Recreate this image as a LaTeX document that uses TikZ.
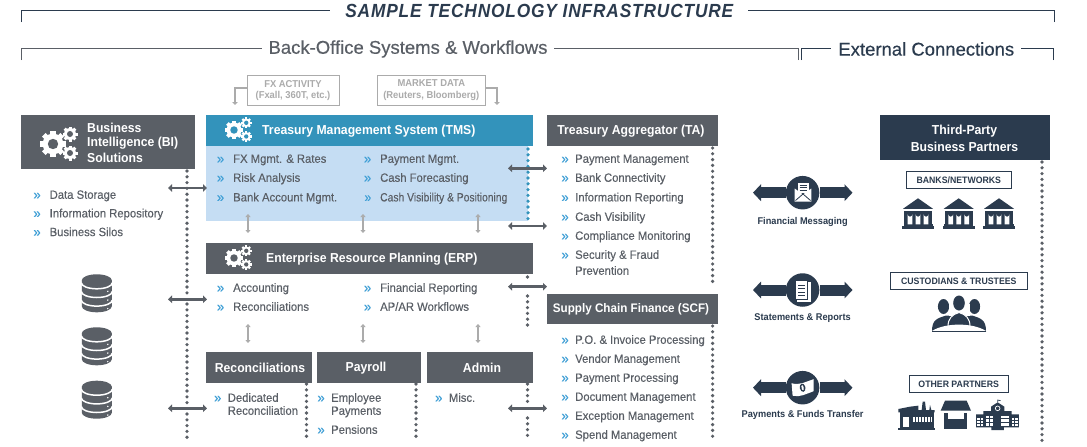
\documentclass[tikz,border=0pt]{standalone}
\usepackage{fontspec}
\setmainfont{Liberation Sans}
\newfontfamily\medfont[FakeStretch=0.94]{Liberation Sans}
\newfontfamily\sectfont[FakeBold=0.4]{Liberation Sans}
\newfontfamily\itemfont[FakeStretch=0.94,FakeBold=0.2]{Liberation Sans}
\newfontfamily\tightfont[FakeStretch=0.86,FakeBold=0.2]{Liberation Sans}
\newfontfamily\titlefont[LetterSpace=4.5,FakeStretch=0.91]{Liberation Sans}
\usetikzlibrary{arrows.meta}
\definecolor{slate}{HTML}{5A5F66}
\definecolor{tmsblue}{HTML}{3393BB}
\definecolor{paleblue}{HTML}{C5DDF3}
\definecolor{navy}{HTML}{2B3B4E}
\definecolor{softgray}{HTML}{ABABAB}
\definecolor{bulletblue}{HTML}{3F9FD6}
\newcommand{\rb}[1][9pt]{\llap{\raisebox{-0.5pt}{\textcolor{bulletblue}{\fontsize{14}{14}\selectfont »}}\hspace{#1}}}
\newcommand{\gearwheel}[4]{%
  \foreach \a in {0,45,...,315}
    \fill[white,rotate around={\a:(#1,#2)}] ({#1-0.2*#3},#2) rectangle ({#1+0.2*#3},{#2-#3});
  \fill[white] (#1,#2) circle[radius=0.8*#3];
  \fill[#4] (#1,#2) circle[radius=0.4*#3];
}
\tikzset{
  headbox/.style={inner sep=0pt,anchor=north west,text=white},
  headtext/.style={inner sep=0pt,text=white,font=\medfont\bfseries\fontsize{13}{15}\selectfont},
  item/.style={inner sep=0pt,anchor=west,text=slate,text height=10.2pt,text depth=2pt,
    font=\itemfont\fontsize{12}{14}\selectfont},
  partner/.style={draw=navy,line width=0.9pt,inner sep=0pt,text=navy,minimum height=17.4pt,
    font=\medfont\bfseries\fontsize{9.3}{11}\selectfont},
  feedbox/.style={draw=softgray,line width=1pt,inner sep=0pt,text=softgray,align=center,
    font=\medfont\bfseries\fontsize{10}{11.5}\selectfont},
  flowlabel/.style={inner sep=0pt,text=navy,font=\medfont\bfseries\fontsize{9.8}{11}\selectfont},
  flowdisc/.style={circle,fill=navy,minimum size=33.5pt,inner sep=0pt},
  flowarrow/.style={line width=11pt,navy,-{Triangle[length=8pt,width=16.5pt]}},
  linkarrow/.style={line width=2.8pt,slate,{Triangle[length=4pt,width=7.5pt]}-{Triangle[length=4pt,width=7.5pt]}},
  softarrow/.style={line width=1.6pt,softgray,{Triangle[length=3pt,width=5pt]}-{Triangle[length=3pt,width=5pt]}},
  feedarrow/.style={line width=2pt,softgray,-{Triangle[length=3pt,width=5.5pt]}},
  dotrule/.style={line width=3.6pt,line cap=round,dash pattern=on 0pt off 5.8pt,slate},
  framerule/.style={line width=1pt},
  pics/gearset/.style={code={
    \gearwheel{0}{0}{13}{#1}
    \gearwheel{17}{-10}{7.5}{#1}
    \gearwheel{17}{9}{7.5}{#1}
  }},
  pics/dbstack/.style={code={
    \fill[slate] (-15,6) -- (-15,32) arc[start angle=180,end angle=0,x radius=15,y radius=6] -- (15,6) -- cycle;
    \fill[slate] (0,6) ellipse[x radius=15,y radius=6];
    \foreach \d in {8.5,17.2,25.8}
      \draw[white,line width=1.5pt] (-15.5,\d) arc[start angle=180,end angle=0,x radius=15.5,y radius=6];
    \foreach \d in {18.5,27.2,35.8}
      \fill[white] (11,\d-1.5) circle[radius=0.8];
  }},
  pics/bankhouse/.style={code={
    \fill[navy] (-15,10.5) -- (0,0) -- (15,10.5) -- cycle;
    \fill[navy] (-14,12.5) rectangle (14,26);
    \fill[navy] (-14.5,26) rectangle (14.5,28);
    \fill[navy] (-16,28) rectangle (16,30.5);
    \foreach \c in {-8,0,8}
      \fill[white] (\c-2.4,26) -- (\c-2.4,16) arc[start angle=180,end angle=0,radius=2.4] -- (\c+2.4,26) -- cycle;
  }},
  pics/crowd/.style={code={
    \fill[navy] (-15.5,11) ellipse[x radius=5.6,y radius=7.5];
    \fill[navy] (15.5,11) ellipse[x radius=5.6,y radius=7.5];
    \fill[navy] (-27,36) .. controls (-27,24) and (-22,23) .. (-13,20) -- (13,20) .. controls (22,23) and (27,24) .. (27,36) -- cycle;
    \fill[white] (-10.5,8) rectangle (10.5,20);
    \fill[navy] (0,7.5) ellipse[x radius=5.8,y radius=7.5];
    \draw[white,line width=1pt,fill=navy] (-11,31) .. controls (-11,23) and (-7,19) .. (0,17) .. controls (7,19) and (11,23) .. (11,31) -- cycle;
    \fill[white] (-27,35.5) .. controls (-14,27) and (14,27) .. (27,35.5) -- cycle;
    \draw[navy,line width=0.8pt] (-27,36) -- (27,36);
  }},
  pics/mailicon/.style={code={
    \fill[white] (-5.5,-10) rectangle (5.5,0);
    \draw[navy,line width=0.8pt] (-3.5,-7.5) -- (3.5,-7.5) (-3.5,-5) -- (3.5,-5) (-3.5,-2.5) -- (3.5,-2.5);
    \fill[white] (-8.3,-4) -- (-8.3,9) -- (8.3,9) -- (8.3,-4) -- (0,2) -- cycle;
    \draw[navy,line width=0.8pt] (-7.5,8) -- (0,1.5) -- (7.5,8);
  }},
  pics/sheeticon/.style={code={
    \fill[white] (-5.5,-8.5) rectangle (8,11.5);
    \draw[navy,line width=0.5pt,fill=white] (-7.5,-9.5) rectangle (5,9.5);
    \foreach \d in {-5,-1.5,2,5.5}
      \draw[navy,line width=0.8pt] (-4.5,\d) -- (2.5,\d);
  }},
  pics/noteicon/.style={code={
    \fill[white] (-11,-4.5) .. controls (-3,-2) and (3,-6) .. (11,-8.5) -- (11,3.5) .. controls (4,6) and (-3,10) .. (-10,8) -- cycle;
    \fill[navy,rotate=12] (0,0) ellipse[x radius=2.8,y radius=4.2];
    \fill[white,rotate=12] (0,0) ellipse[x radius=1.1,y radius=2.6];
  }},
  pics/factoryicon/.style={code={
    \fill[navy] (30,52) rectangle (132,100);
    \fill[navy] (25,100) rectangle (134,105);
    \fill[navy] (25,52) -- (25,42) -- (60,35) -- (85,32) -- (85,45) -- (95,45) -- (98,20) -- (105,20) -- (108,45) -- (118,45) -- (120,30) -- (124,45) -- (134,45) -- (134,52) -- cycle;
    \fill[white] (40,67) rectangle (58,95);
    \fill[white] (68,67) rectangle (125,82);
    \foreach \q in {75,84,93,102,111,120}
      \draw[navy,line width=0.4pt] (\q,67) -- (\q,82);
  }},
  pics/shopicon/.style={code={
    \fill[navy] (165,17) -- (230,17) -- (243,47) -- (152,47) -- cycle;
    \fill[navy] (163,55) rectangle (232,103);
    \fill[white] (173,55) rectangle (222,72);
  }},
  pics/schoolicon/.style={code={
    \fill[navy] (258,58) -- (280,58) -- (280,48) -- (303,48) -- (303,35) -- (323,22) -- (343,35) -- (343,48) -- (365,48) -- (365,58) -- (387,58) -- (387,97) -- (342,97) -- (342,105) -- (304,105) -- (304,97) -- (258,97) -- cycle;
    \draw[navy,line width=0.7pt] (323,22) -- (323,15) -- (332,17);
    \draw[white,line width=0.7pt] (323,40) circle[radius=7];
    \foreach \wx in {288,300,334,346}
      \foreach \wy in {62,73,84}
        \fill[white] (\wx,\wy) rectangle ++(10,8);
    \foreach \wx in {262,272,366,376}
      \foreach \wy in {68,78,88}
        \fill[white] (\wx,\wy) rectangle ++(7,6);
  }}
}
\begin{document}
\begin{tikzpicture}[x=1pt,y=-1pt]
  \path[use as bounding box,fill=white] (0,0) rectangle (1087,447);

  \node[inner sep=0pt,minimum width=417.5pt,text=navy] (maintitle) at (539.3,10.8)
    {\titlefont\fontsize{19}{22}\selectfont\bfseries\itshape SAMPLE TECHNOLOGY INFRASTRUCTURE};
  \node[inner sep=0pt,minimum width=292pt,text=slate] (backtitle) at (408,49)
    {\sectfont\fontsize{18.5}{21}\selectfont Back-Office Systems \& Workflows};
  \node[inner sep=0pt,minimum width=189.4pt,text=navy] (exttitle) at (926.3,49)
    {\sectfont\fontsize{18.5}{21}\selectfont External Connections};
  \coordinate (maintl) at (21,22);
  \coordinate (maintr) at (1054.5,22);
  \coordinate (backl) at (21,60);
  \coordinate (backr) at (798,60);
  \coordinate (extl) at (801.6,60);
  \coordinate (extr) at (1053.5,60);
  \begin{scope}[framerule]
    \draw[navy] (maintl) |- ([yshift=0.5pt]maintitle.west);
    \draw[navy] (maintr) |- ([yshift=0.5pt]maintitle.east);
    \draw[slate] (backl) |- ([yshift=1pt]backtitle.west);
    \draw[slate] (backr) |- ([yshift=1pt]backtitle.east);
    \draw[navy] (extl) |- ([yshift=1pt]exttitle.west);
    \draw[navy] (extr) |- ([yshift=1pt]exttitle.east);
  \end{scope}

  \node[feedbox,minimum width=92pt,minimum height=30pt] (fxbox) at (293,90.3)
    {FX ACTIVITY\\(Fxall, 360T, etc.)};
  \node[feedbox,minimum width=108.5pt,minimum height=30pt] (mktbox) at (431.3,90.3)
    {MARKET DATA\\(Reuters, Bloomberg)};
  \coordinate (fxtip) at (235,105);
  \coordinate (mkttip) at (497,105);
  \draw[feedarrow] ([yshift=2.6pt]fxbox.west) -| (fxtip);
  \draw[feedarrow] ([yshift=2.6pt]mktbox.east) -| (mkttip);

  \node[headbox,fill=slate,minimum width=174pt,minimum height=53.7pt] (bihead) at (21,115) {};
  \node[headbox,fill=tmsblue,minimum width=327pt,minimum height=31pt] (tmshead) at (206,115) {};
  \node[headbox,fill=paleblue,minimum width=322pt,minimum height=75pt] (tmsbody) at (206,146) {};
  \node[headbox,fill=slate,minimum width=327pt,minimum height=31pt] (erphead) at (206,243) {};
  \node[headbox,fill=slate,minimum width=106pt,minimum height=31pt] (rechead) at (206,352) {};
  \node[headbox,fill=slate,minimum width=104pt,minimum height=31pt] (payhead) at (317,352) {};
  \node[headbox,fill=slate,minimum width=106pt,minimum height=31pt] (admhead) at (427,352) {};
  \node[headbox,fill=slate,minimum width=171pt,minimum height=31pt] (tahead) at (547,115) {};
  \node[headbox,fill=slate,minimum width=171pt,minimum height=30pt] (scfhead) at (547,294) {};
  \node[headbox,fill=navy,minimum width=170pt,minimum height=45pt] (tphead) at (880,115) {};

  \node[headtext,anchor=west] (bitext1) at (87,128) {Business};
  \node[headtext,anchor=west] (bitext2) at (87,143.2) {Intelligence (BI)};
  \node[headtext,anchor=west] (bitext3) at (87,158) {Solutions};
  \node[headtext,anchor=west] (tmstext) at (262,131) {Treasury Management System (TMS)};
  \node[headtext,anchor=west] (erptext) at (266,259) {Enterprise Resource Planning (ERP)};
  \node[headtext] (rectext) at (260,368) {Reconciliations};
  \node[headtext] (paytext) at (366,368) {Payroll};
  \node[headtext] (admtext) at (482,368) {Admin};
  \node[headtext] (tatext) at (631,131) {Treasury Aggregator (TA)};
  \node[headtext,font=\medfont\bfseries\fontsize{12.4}{15}\selectfont] (scftext) at (631,309.5) {Supply Chain Finance (SCF)};
  \node[headtext] (tptext1) at (964.5,131) {Third-Party};
  \node[headtext] (tptext2) at (964.5,147.2) {Business Partners};

  \pic at (53,144) {gearset=slate};
  \pic[scale=0.72] at (234,130) {gearset=tmsblue};
  \pic[scale=0.72] at (234,258) {gearset=slate};

  \foreach \name/\x/\from/\to in {
      bia/187/171/296, bib/187/304/404, bic/187/414/441,
      erpa/527.5/277/279, erpb/527.5/296/325,
      reca/306.5/384/441, paya/416/384/441,
      adma/527.5/384/403, admb/527.5/418/441,
      taa/712.6/148/283, scfa/712.6/326/441,
      tpa/1042/162/441} {
    \coordinate (\name top) at (\x,\from);
    \coordinate (\name end) at (\x,\to);
    \draw[dotrule] (\name top) -- (\name end);
  }
  \coordinate (tmsdottop) at (528,149);
  \coordinate (tmsdotend) at (528,221);
  \draw[dotrule,tmsblue] (tmsdottop) -- (tmsdotend);

  \foreach \name/\xa/\xb/\y in {
      bil/168/207/188, erpl/168/207/299.3, recl/168/207/408.3,
      tmsu/508/547/168.3, tmsv/508/547/226,
      erpr/508/547/286.7, admr/508/547/408.3} {
    \coordinate (\name a) at (\xa,\y);
    \coordinate (\name b) at (\xb,\y);
    \draw[linkarrow] (\name a) -- (\name b);
  }

  \foreach \name/\x/\ya/\yb in {
      upa/248/214/233, upb/363/214/233, upc/478/214/233,
      loa/248/324/343, lob/363/324/343, loc/478/324/343} {
    \coordinate (\name a) at (\x,\ya);
    \coordinate (\name b) at (\x,\yb);
    \draw[softarrow] (\name a) -- (\name b);
  }

  \node[item] (bia1) at (49.5,194.7) {\rb Data Storage};
  \node[item] (bia2) at (49.5,213.3) {\rb Information Repository};
  \node[item] (bia3) at (49.5,232) {\rb Business Silos};

  \node[item] (tms1) at (233,158.7) {\rb FX Mgmt. \& Rates};
  \node[item] (tms2) at (233,177.7) {\rb Risk Analysis};
  \node[item] (tms3) at (233,197.3) {\rb Bank Account Mgmt.};
  \node[item] (tms4) at (380,158.7) {\rb Payment Mgmt.};
  \node[item] (tms5) at (380,177.7) {\rb Cash Forecasting};
  \node[item,font=\tightfont\fontsize{12}{14}\selectfont] (tms6) at (380,197.3) {\rb Cash Visibility \& Positioning};

  \node[item] (erp1) at (233,287.7) {\rb Accounting};
  \node[item] (erp2) at (233,306.7) {\rb Reconciliations};
  \node[item] (erp3) at (380,287.7) {\rb Financial Reporting};
  \node[item] (erp4) at (380,306.7) {\rb AP/AR Workflows};

  \node[item] (rec1) at (227.6,397.7) {\rb[6.5pt]Dedicated};
  \node[item] (rec2) at (227.6,410.7) {Reconciliation};
  \node[item] (pay1) at (331,397.7) {\rb[6.5pt]Employee};
  \node[item] (pay2) at (331,410.7) {Payments};
  \node[item] (pay3) at (331,429.7) {\rb[6.5pt]Pensions};
  \node[item] (adm1) at (448.7,397.7) {\rb[6.5pt]Misc.};

  \node[item] (ta1) at (575,158.7) {\rb[6.5pt]Payment Management};
  \node[item] (ta2) at (575,177.7) {\rb[6.5pt]Bank Connectivity};
  \node[item] (ta3) at (575,197.3) {\rb[6.5pt]Information Reporting};
  \node[item] (ta4) at (575,216.7) {\rb[6.5pt]Cash Visibility};
  \node[item] (ta5) at (575,235.7) {\rb[6.5pt]Compliance Monitoring};
  \node[item] (ta6) at (575,254.7) {\rb[6.5pt]Security \& Fraud};
  \node[item] (ta7) at (575,270.7) {Prevention};

  \node[item] (scf1) at (575,339.7) {\rb[6.5pt]P.O. \& Invoice Processing};
  \node[item] (scf2) at (575,358.7) {\rb[6.5pt]Vendor Management};
  \node[item] (scf3) at (575,377.7) {\rb[6.5pt]Payment Processing};
  \node[item] (scf4) at (575,396.7) {\rb[6.5pt]Document Management};
  \node[item] (scf5) at (575,415.7) {\rb[6.5pt]Exception Management};
  \node[item] (scf6) at (575,434.7) {\rb[6.5pt]Spend Management};

  \pic at (96.8,274.3) {dbstack};
  \pic at (96.8,327.3) {dbstack};
  \pic at (96.8,380.7) {dbstack};

  \foreach \name/\y in {msg/192.7,stm/290,fun/387.7} {
    \node[flowdisc] (\name disc) at (802.6,\y) {};
    \coordinate (\name l) at (753,\y);
    \coordinate (\name r) at (852.5,\y);
    \draw[flowarrow] (\name disc) -- (\name l);
    \draw[flowarrow] (\name disc) -- (\name r);
  }
  \pic at (803,192.5) {mailicon};
  \pic at (802.6,290) {sheeticon};
  \pic at (802.6,387.7) {noteicon};
  \node[flowlabel] (msglabel) at (802.6,221.7) {Financial Messaging};
  \node[flowlabel] (stmlabel) at (802.6,317.7) {Statements \& Reports};
  \node[flowlabel] (funlabel) at (802.6,414.7) {Payments \& Funds Transfer};

  \node[partner,minimum width=105.6pt] (banks) at (958.8,180) {BANKS/NETWORKS};
  \node[partner,minimum width=137.6pt] (custody) at (958.8,281) {CUSTODIANS \& TRUSTEES};
  \node[partner,minimum width=99.4pt] (others) at (958.7,384) {OTHER PARTNERS};

  \pic at (918,198.3) {bankhouse};
  \pic at (958.7,198.3) {bankhouse};
  \pic at (999,198.3) {bankhouse};
  \pic at (959,295.5) {crowd};
  \begin{scope}[shift={(890,395)},x=0.3333pt,y=-0.3333pt]
    \pic {factoryicon};
    \pic {shopicon};
    \pic {schoolicon};
  \end{scope}
\end{tikzpicture}
\end{document}
